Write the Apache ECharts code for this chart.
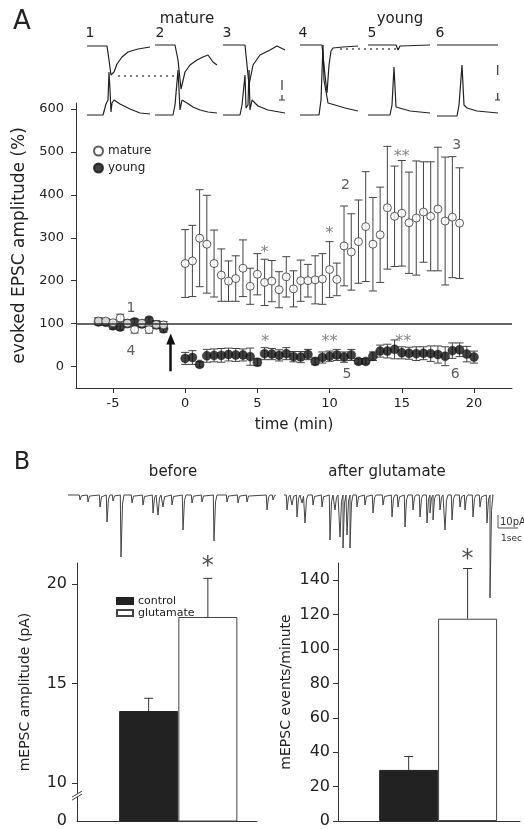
<!DOCTYPE html>
<html><head><meta charset="utf-8">
<script src="https://cdn.jsdelivr.net/npm/echarts@6/dist/echarts.min.js"></script>
<style>html,body{margin:0;padding:0;background:#fff}#c{width:524px;height:829px}</style>
</head><body><div id="c"></div>
<script>
const FONT = 'DejaVu Sans';

// ---------- Panel A: example traces (panel time units, amplitude units) ----------
const panelOffsets = [0, 68, 136, 213, 281, 350];
const epscTraces = [
  [[0,74],[20,74],[22,60],[24,45],[25,43],[27,48],[30,56],[35,63],[41,68],[51,71],[63,73]],
  [[0,75],[20,75],[23,60],[26,31],[27,30],[30,48],[35,55],[42,60],[48,63],[53,65],[58,58],[62,55]],
  [[0,75],[22,75],[24,55],[26,35],[27,40],[30,55],[37,65],[47,70],[54,74],[58,72],[62,70]],
  [[0,75],[22,75],[25,45],[27,27],[29,55],[31,69],[33,72],[43,73],[58,74]],
  [[0,75],[28,75],[30,70],[32,74],[62,75]],
  [[0,75],[61,75]]
];
const potentialTraces = [
  [[0,5],[16,5],[18,7],[19,16],[20,17],[21,20],[22,48],[23,30],[24,8],[25,17],[27,20],[33,16],[43,11],[53,7],[63,6]],
  [[0,5],[18,5],[20,15],[23,50],[25,10],[27,20],[32,17],[38,13],[45,10],[53,8],[62,7]],
  [[0,5],[17,5],[19,15],[22,45],[23,12],[25,15],[26,50],[27,10],[29,20],[35,14],[45,10],[62,7]],
  [[0,5],[19,5],[21,20],[23,75],[24,40],[28,17],[35,15],[45,12],[58,9]],
  [[0,5],[22,5],[24,15],[26,53],[28,13],[30,12],[42,9],[62,7]],
  [[0,4],[20,4],[22,15],[25,55],[27,15],[30,12],[40,9],[61,7]]
];
const dottedMature = [[31,44],[90,44]];
const dottedYoung = [[253,71],[310,71]];
const scaleBarsA = [
  [[195,40],[195,30]], [[195,25],[195,20]], [[192,20],[198,20]],
  [[410.7,55],[410.7,45]], [[410.7,27],[410.7,20]], [[408,20],[413,20]]
];
const panelNumbers = ['1','2','3','4','5','6'];

// ---------- Panel A: summary (evoked EPSC amplitude, %) ----------
const matureBaseTime = [-6,-5.5,-5,-4.5,-4,-3.5,-3,-2.5,-2,-1.5];
const matureBaseVal  = [106,106,102,113,101,86,101,86,98,97];
const matureBaseErr  = [8,6,7,9,8,8,7,8,9,8];
const youngBaseVal   = [104,103,95,92,100,104,99,108,97,88];
const youngBaseErr   = [8,7,8,7,8,7,8,7,8,8];

const matureTime = [0,0.5,1,1.5,2,2.5,3,3.5,4,4.5,5,5.5,6,6.5,7,7.5,8,8.5,9,9.5,10,10.5,11,11.5,12,12.5,13,13.5,14,14.5,15,15.5,16,16.5,17,17.5,18,18.5,19];
const matureVal = [240,246,299,285,240,213,199,205,229,187,215,196,199,179,209,181,200,200,202,204,226,203,281,267,291,326,285,307,370,350,357,335,346,360,350,367,339,348,334];
const matureErr = [79,83,113,114,78,61,47,53,66,42,48,54,48,42,47,42,48,38,56,59,65,38,93,89,97,128,109,111,143,117,123,118,133,117,127,144,149,141,129];

const youngTime = [0,0.5,1,1.5,2,2.5,3,3.5,4,4.5,5,5.5,6,6.5,7,7.5,8,8.5,9,9.5,10,10.5,11,11.5,12,12.5,13,13.5,14,14.5,15,15.5,16,16.5,17,17.5,18,18.5,19,19.5,20];
const youngVal = [19,21,5,25,26,26,28,27,27,23,10,30,29,26,30,23,22,28,12,21,24,27,22,27,12,12,24,36,36,40,32,31,30,31,30,28,24,37,39,29,22];
const youngErr = [14,16,6,15,15,16,15,15,14,20,8,14,13,13,14,12,13,12,8,13,12,13,12,13,6,6,10,14,16,22,14,14,16,15,18,20,22,18,16,18,14];

const timeTicks = [-5,0,5,10,15,20];
const amplitudeTicks = [0,100,200,300,400,500,600];

const annoText = ['1','4','2','3','5','6','*','*','**','*','**','**'];
const annoTime = [-3.75,-3.75,11.1,18.8,11.2,18.7,5.5,10.0,15.0,5.55,10.0,15.1];
const annoVal  = [136,36,423,516,-19,-19,265,310,488,58,58,58];

// ---------- Panel B: mEPSC example traces (spike position, depth) ----------
const traceLength = 208;
const beforeStart = 0, afterStart = 216;
const beforeSpikes = [[12,5],[20,7],[32,12],[39,27],[45,6],[53,62],[64,8],[75,10],[85,18],[90,20],[95,12],[104,10],[115,35],[124,8],[134,7],[146,46],[159,7],[170,8],[179,7],[199,15],[205,5]];
const afterSpikes = [[3,15],[8,10],[13,22],[18,8],[21,28],[29,10],[38,12],[46,45],[51,15],[56,42],[59,53],[63,40],[66,53],[73,12],[81,10],[89,18],[99,10],[108,22],[114,12],[121,32],[129,15],[136,22],[143,28],[146,18],[149,25],[156,15],[161,35],[168,25],[176,12],[181,15],[189,22],[196,12],[203,28],[206,103]];
const scaleBarsB = [ [[430,-20],[430,-33]], [[430,-33],[450,-33]] ];

// ---------- Panel B: bar charts ----------
const barGroups = ['control','glutamate'];
const ampVal = [13.62, 18.34];
const ampErr = [0.64, 1.94];
const ampTicks = [10,15,20];
const freqVal = [29.7, 117.6];
const freqErr = [7.8, 29.2];
const freqTicks = [0,20,40,60,80,100,120,140];

// ---------- build ----------
function buildSpikeTrace(spikes, start){
  const pts = [[start,0]];
  spikes.forEach(([t,d]) => {
    pts.push([start+t-0.7,0],[start+t,-d],[start+t+1.5,-d*0.15],[start+t+3,0]);
  });
  pts.push([start+traceLength,0]);
  return pts;
}
function errRender(capW, onlyUp, color){
  return function(params, api){
    const x = api.value(0), v = api.value(1), e = api.value(2);
    const top = api.coord([x, v+e]);
    const bot = api.coord([x, onlyUp ? v : v-e]);
    const style = {stroke: color, lineWidth: 1, fill: null};
    const ch = [
      {type:'line', shape:{x1:top[0],y1:top[1],x2:bot[0],y2:bot[1]}, style},
      {type:'line', shape:{x1:top[0]-capW/2,y1:top[1],x2:top[0]+capW/2,y2:top[1]}, style}
    ];
    if(!onlyUp) ch.push({type:'line', shape:{x1:bot[0]-capW/2,y1:bot[1],x2:bot[0]+capW/2,y2:bot[1]}, style});
    return {type:'group', children: ch};
  };
}

const series = [];
panelOffsets.forEach((off,i) => {
  series.push({type:'line', xAxisIndex:0, yAxisIndex:0, symbol:'none', silent:true,
    lineStyle:{color:'#222', width:1.2}, data: epscTraces[i].map(p=>[p[0]+off,p[1]])});
  series.push({type:'line', xAxisIndex:0, yAxisIndex:0, symbol:'none', silent:true,
    lineStyle:{color:'#222', width:1.2}, data: potentialTraces[i].map(p=>[p[0]+off,p[1]])});
});
[dottedMature, dottedYoung].forEach(d => series.push({type:'line', xAxisIndex:0, yAxisIndex:0, symbol:'none', silent:true, clip:false,
  lineStyle:{color:'#555', width:1.3, type:[2,4]}, data:d}));
scaleBarsA.forEach(d => series.push({type:'line', xAxisIndex:0, yAxisIndex:0, symbol:'none', silent:true, clip:false,
  lineStyle:{color:'#333', width:1.2}, data:d}));

const matureData = matureBaseTime.map((t,i)=>[t,matureBaseVal[i],matureBaseErr[i]])
  .concat(matureTime.map((t,i)=>[t,matureVal[i],matureErr[i]]));
const youngData = matureBaseTime.map((t,i)=>[t,youngBaseVal[i],youngBaseErr[i]])
  .concat(youngTime.map((t,i)=>[t,youngVal[i],youngErr[i]]));

series.push({type:'custom', xAxisIndex:1, yAxisIndex:1, renderItem: errRender(8,false,'#444'),
  encode:{x:0,y:1}, data: youngData, z:2, silent:true});
series.push({type:'custom', xAxisIndex:1, yAxisIndex:1, renderItem: errRender(8,false,'#444'),
  encode:{x:0,y:1}, data: matureData, z:2, silent:true});
series.push({type:'scatter', name:'young', xAxisIndex:1, yAxisIndex:1, symbol:'circle', symbolSize:9,
  itemStyle:{color:'#111', borderColor:'#111', borderWidth:0.5}, data: youngData.map(d=>[d[0],d[1]]), z:3,
  markLine:{silent:true, symbol:['none','triangle'], symbolSize:[9,11], label:{show:false},
    lineStyle:{color:'#111', width:2.5, type:'solid'},
    data:[[{coord:[-1,-11]},{coord:[-1,64]}]]}});
series.push({type:'scatter', name:'mature', xAxisIndex:1, yAxisIndex:1, symbol:'circle', symbolSize:8,
  itemStyle:{color:'#fff', borderColor:'#333', borderWidth:1}, data: matureData.map(d=>[d[0],d[1]]), z:4,
  markLine:{silent:true, symbol:['none','none'], label:{show:false},
    lineStyle:{color:'#333', width:1.5, type:'solid'}, data:[{yAxis:100}]}});
series.push({type:'scatter', xAxisIndex:1, yAxisIndex:1, symbolSize:1, clip:false, silent:true, z:5,
  itemStyle:{color:'transparent'},
  label:{show:true, position:'inside', formatter:p=>p.name, fontFamily:FONT, color:'#333', fontSize:14},
  data: annoText.map((t,i)=>({name:t, value:[annoTime[i], annoVal[i]],
    label: t.indexOf('*')>=0 ? {fontSize:16, color:'#666'} : {}}))});

series.push({type:'line', xAxisIndex:2, yAxisIndex:2, symbol:'none', silent:true, clip:false,
  lineStyle:{color:'#444', width:1}, data: buildSpikeTrace(beforeSpikes, beforeStart)});
series.push({type:'line', xAxisIndex:2, yAxisIndex:2, symbol:'none', silent:true, clip:false,
  lineStyle:{color:'#444', width:1}, data: buildSpikeTrace(afterSpikes, afterStart)});
scaleBarsB.forEach(d => series.push({type:'line', xAxisIndex:2, yAxisIndex:2, symbol:'none', silent:true, clip:false,
  lineStyle:{color:'#555', width:1}, data:d}));

[[3, ampVal, ampErr], [4, freqVal, freqErr]].forEach(([gi, vals, errs]) => {
  series.push({type:'bar', name:barGroups[0], xAxisIndex:gi, yAxisIndex:gi, barWidth: 59, barGap:'-100%',
    itemStyle:{color:'#222', borderColor:'#222', borderWidth:1}, data:[[1, vals[0]]], silent:true});
  series.push({type:'bar', name:barGroups[1], xAxisIndex:gi, yAxisIndex:gi, barWidth: 59, barGap:'-100%',
    itemStyle:{color:'#fff', borderColor:'#444', borderWidth:1}, data:[[2, vals[1]]], silent:true});
  series.push({type:'custom', xAxisIndex:gi, yAxisIndex:gi, renderItem: errRender(9,true,'#333'),
    encode:{x:0,y:1}, data:[[1, vals[0], errs[0]],[2, vals[1], errs[1]]], z:5, silent:true});
});
series.push({type:'scatter', xAxisIndex:3, yAxisIndex:3, symbolSize:1, clip:false, silent:true,
  itemStyle:{color:'transparent'}, label:{show:true, position:'inside', formatter:'*', fontSize:24, fontFamily:FONT, color:'#222'},
  data:[[2, 20.85]]});
series.push({type:'scatter', xAxisIndex:4, yAxisIndex:4, symbolSize:1, clip:false, silent:true,
  itemStyle:{color:'transparent'}, label:{show:true, position:'inside', formatter:'*', fontSize:24, fontFamily:FONT, color:'#222'},
  data:[[2, 152]]});
series.push({type:'custom', xAxisIndex:3, yAxisIndex:3, silent:true, z:6, encode:{x:0,y:1},
  data:[[-0.21, 9.4]],
  renderItem:(p, api) => {
    const c = api.coord([api.value(0), api.value(1)]);
    return {type:'group', children:[
      {type:'polygon', shape:{points:[[c[0]-5,c[1]+2],[c[0]+5,c[1]-4],[c[0]+5,c[1]-1],[c[0]-5,c[1]+5]]}, style:{fill:'#fff'}},
      {type:'line', shape:{x1:c[0]-5,y1:c[1]+2,x2:c[0]+5,y2:c[1]-4}, style:{stroke:'#444', lineWidth:1}},
      {type:'line', shape:{x1:c[0]-5,y1:c[1]+5,x2:c[0]+5,y2:c[1]-1}, style:{stroke:'#444', lineWidth:1}}
    ]};
  }});

const axisCommon = {axisLine:{show:true, onZero:false, lineStyle:{color:'#333', width:1}}, splitLine:{show:false}};
const hiddenAxis = (min,max,gi) => ({type:'value', gridIndex:gi, min, max, show:false});

const option = {
  animation:false,
  backgroundColor:'#fff',
  textStyle:{fontFamily:FONT},
  grid:[
    {left:87, top:40, width:420, height:80},
    {left:76, top:103, width:436, height:285},
    {left:68, top:485, width:456, height:115},
    {left:77, top:563, width:180, height:260},
    {left:338, top:563, width:182, height:258}
  ],
  xAxis:[
    hiddenAxis(0,420,0),
    Object.assign({type:'value', gridIndex:1, min:-7.56, max:22.63,
      axisTick:{show:true, customValues:timeTicks, length:5, lineStyle:{color:'#333'}},
      axisLabel:{customValues:timeTicks, fontSize:13, color:'#222', margin:9, fontFamily:FONT},
      name:'time (min)', nameLocation:'middle', nameGap:30,
      nameTextStyle:{fontSize:15, color:'#222', fontFamily:FONT}}, axisCommon),
    hiddenAxis(0,456,2),
    Object.assign({type:'value', gridIndex:3, min:-0.21, max:2.83, axisTick:{show:false}, axisLabel:{show:false}}, axisCommon),
    Object.assign({type:'value', gridIndex:4, min:-0.199, max:2.889, axisTick:{show:false}, axisLabel:{show:false}}, axisCommon)
  ],
  yAxis:[
    hiddenAxis(0,80,0),
    Object.assign({type:'value', gridIndex:1, min:-50, max:614,
      axisTick:{show:true, customValues:amplitudeTicks, length:5, lineStyle:{color:'#333'}},
      axisLabel:{customValues:amplitudeTicks, fontSize:13, color:'#222', margin:12, fontFamily:FONT},
      name:'evoked EPSC amplitude (%)', nameLocation:'middle', nameGap:36,
      nameTextStyle:{fontSize:17, color:'#222', fontFamily:FONT}}, axisCommon),
    hiddenAxis(-105,10,2),
    Object.assign({type:'value', gridIndex:3, min:8.1, max:21.05,
      axisTick:{show:true, customValues:ampTicks, length:5, lineStyle:{color:'#333'}},
      axisLabel:{customValues:[8.1].concat(ampTicks), fontSize:16, color:'#222', margin:10, fontFamily:FONT,
        formatter: v => (v < 9 ? '0' : String(v))},
      name:'mEPSC amplitude (pA)', nameLocation:'middle', nameGap:45,
      nameTextStyle:{fontSize:14, color:'#222', fontFamily:FONT}}, axisCommon),
    Object.assign({type:'value', gridIndex:4, min:0, max:150,
      axisTick:{show:true, customValues:freqTicks, length:5, lineStyle:{color:'#333'}},
      axisLabel:{customValues:freqTicks, fontSize:16, color:'#222', margin:8, fontFamily:FONT},
      name:'mEPSC events/minute', nameLocation:'middle', nameGap:45,
      nameTextStyle:{fontSize:14, color:'#222', fontFamily:FONT}}, axisCommon)
  ],
  legend:[
    {data:['mature','young'], orient:'vertical', left:88, top:140, itemWidth:9, itemHeight:9, itemGap:5,
      icon:'circle', textStyle:{fontSize:12, color:'#222', fontFamily:FONT}, selectedMode:false},
    {data:['control','glutamate'], orient:'vertical', left:111, top:590, itemWidth:16, itemHeight:6, itemGap:0,
      icon:'rect', textStyle:{fontSize:11, color:'#222', fontFamily:FONT, lineHeight:12}, selectedMode:false}
  ],
  graphic:[
    {type:'text', x:22, y:22, style:{text:'A', font:'26px "DejaVu Sans"', fill:'#222', align:'center', verticalAlign:'middle'}},
    {type:'text', x:22, y:463, style:{text:'B', font:'24px "DejaVu Sans"', fill:'#222', align:'center', verticalAlign:'middle'}},
    {type:'text', x:187, y:19, style:{text:'mature', font:'15px "DejaVu Sans"', fill:'#222', align:'center', verticalAlign:'middle'}},
    {type:'text', x:400, y:19, style:{text:'young', font:'15px "DejaVu Sans"', fill:'#222', align:'center', verticalAlign:'middle'}},
    {type:'text', x:173, y:472, style:{text:'before', font:'15px "DejaVu Sans"', fill:'#222', align:'center', verticalAlign:'middle'}},
    {type:'text', x:387, y:472, style:{text:'after glutamate', font:'15px "DejaVu Sans"', fill:'#222', align:'center', verticalAlign:'middle'}},
    {type:'text', x:500, y:522, style:{text:'10pA', font:'10px "DejaVu Sans"', fill:'#333', align:'left', verticalAlign:'middle'}},
    {type:'text', x:501, y:539, style:{text:'1sec', font:'9px "DejaVu Sans"', fill:'#333', align:'left', verticalAlign:'middle'}}
  ].concat(panelNumbers.map((t,i)=>({type:'text', x:90+[0,70,137,213,282,350][i], y:33,
      style:{text:t, font:'14px "DejaVu Sans"', fill:'#222', align:'center', verticalAlign:'middle'}}))),
  series
};
const chart = echarts.init(document.getElementById('c'), null, {width:524, height:829});
chart.setOption(option);
</script></body></html>
